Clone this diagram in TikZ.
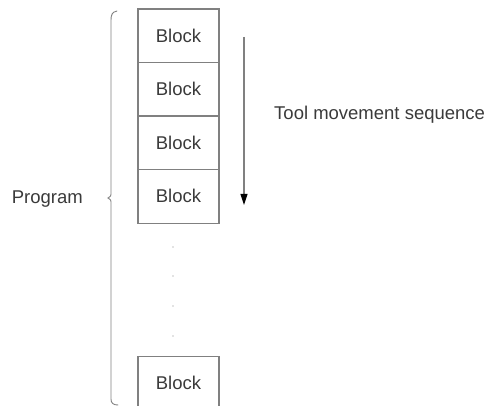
\documentclass[tikz,border=0pt]{standalone}
\usepackage{fontspec}
\setmainfont{Liberation Sans}
\usetikzlibrary{arrows.meta}
\definecolor{inkgray}{HTML}{3A3A3A}
\definecolor{linegray}{HTML}{808080}
\begin{document}
\begin{tikzpicture}[x=1pt,y=-1pt,
  blockbox/.style={draw=linegray,line width=1.1pt,minimum width=81pt,minimum height=53.5pt,
    inner sep=0pt,outer sep=0pt,font=\fontsize{18.5}{20}\selectfont,text=inkgray},
  label/.style={font=\fontsize{18.5}{20}\selectfont,text=inkgray,inner sep=0pt},
  gap/.style={circle,fill=linegray!45,inner sep=0pt,minimum size=1.6pt}]
\useasboundingbox (0,0) rectangle (487,406);
% stacked program blocks
\node[blockbox] (b1) at (178.5,35.8) {Block};
\node[blockbox,anchor=north] (b2) at (b1.south) {Block};
\node[blockbox,anchor=north] (b3) at (b2.south) {Block};
\node[blockbox,anchor=north] (b4) at (b3.south) {Block};
\node[blockbox] (bn) at (178.5,383) {Block};
% elision dots between the blocks
\node[gap] (d1) at (173,247) {};
\node[gap] (d2) at (173,276) {};
\node[gap] (d3) at (173,306) {};
\node[gap] (d4) at (173,336) {};
% brace grouping the whole program
\draw[linegray,line width=0.9pt,line cap=round]
  (117,11) .. controls (112,12) and (111,15) .. (111,20)
  -- (111,192) .. controls (111,196) .. (108,198)
  .. controls (111,200) .. (111,204)
  -- (111,399) .. controls (111,403) and (113,405) .. (118,405);
\node[label,anchor=east] (prog) at (83,199) {Program};
% direction of tool movement
\coordinate (atop) at (244,37);
\coordinate (abot) at (244,205);
\draw[linegray,line width=1.1pt,-{Triangle[length=11pt,width=7pt,color=black]}] (atop) -- (abot);
\node[label,anchor=west] (seq) at (274,115) {Tool movement sequence};
\end{tikzpicture}
\end{document}
